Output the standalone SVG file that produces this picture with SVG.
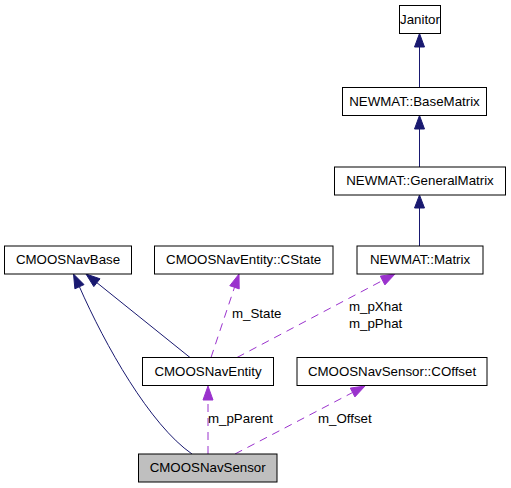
<svg xmlns="http://www.w3.org/2000/svg" width="511" height="488" viewBox="0 0 511 488">
<style>
  .box { fill: #ffffff; stroke: #000000; stroke-width: 1; }
  .cur { fill: #bfbfbf; stroke: #000000; stroke-width: 1; }
  .lbl { font-family: "Liberation Sans", Arial, sans-serif; font-size: 13.3px; fill: #000000; }
  .nm { text-anchor: middle; }
  .inh { fill: none; stroke: #191970; stroke-width: 1; }
  .inhA { fill: #191970; stroke: #191970; stroke-width: 1; }
  .use { fill: none; stroke: #9a32cd; stroke-width: 1; stroke-dasharray: 8,6; }
  .useA { fill: #9a32cd; stroke: #9a32cd; stroke-width: 1; }
</style>
<rect width="511" height="488" fill="#ffffff"/>
<g id="connectors">
  <!-- inheritance -->
  <line class="inh" x1="419.5" y1="87" x2="419.5" y2="47"/>
  <polygon class="inhA" points="419.5,33.5 414.5,47 424.5,47"/>
  <line class="inh" x1="419.5" y1="167" x2="419.5" y2="129"/>
  <polygon class="inhA" points="419.5,115.5 414.5,129 424.5,129"/>
  <line class="inh" x1="419.5" y1="246" x2="419.5" y2="208"/>
  <polygon class="inhA" points="419.5,195 414.5,208 424.5,208"/>
  <path class="inh" d="M192,454 C150,425 105,345 79.4,286.7"/>
  <polygon class="inhA" points="73.5,274 84,284.6 74.9,288.8"/>
  <line class="inh" x1="190" y1="357.5" x2="96.9" y2="282.7"/>
  <polygon class="inhA" points="86,274 100,278.8 93.8,286.6"/>
  <!-- usage -->
  <line class="use" x1="211" y1="357.5" x2="234.5" y2="287.3"/>
  <polygon class="useA" points="239,274 239.2,288.9 229.8,285.7"/>
  <line class="use" x1="237" y1="357.5" x2="382.6" y2="280.5"/>
  <polygon class="useA" points="395,274 384.9,284.9 380.3,276.1"/>
  <line class="use" x1="208" y1="454" x2="208" y2="400"/>
  <polygon class="useA" points="208,386 203,400 213,400"/>
  <line class="use" x1="235" y1="454" x2="352.6" y2="392.5"/>
  <polygon class="useA" points="365,386 354.9,396.9 350.3,388.1"/>
  <text class="lbl" x="232" y="318">m_State</text>
  <text class="lbl" x="349" y="311">m_pXhat</text>
  <text class="lbl" x="349" y="327.5">m_pPhat</text>
  <text class="lbl" x="208" y="423">m_pParent</text>
  <text class="lbl" x="318" y="423">m_Offset</text>
</g>
<g id="Janitor">
  <rect class="box" x="399.5" y="5.5" width="41" height="28"/>
  <text class="lbl nm" x="420" y="23.5">Janitor</text>
</g>
<g id="BaseMatrix">
  <rect class="box" x="342.5" y="87.5" width="144" height="28"/>
  <text class="lbl nm" x="414.5" y="105.5">NEWMAT::BaseMatrix</text>
</g>
<g id="GeneralMatrix">
  <rect class="box" x="334.5" y="167" width="171" height="28"/>
  <text class="lbl nm" x="420" y="185">NEWMAT::GeneralMatrix</text>
</g>
<g id="Matrix">
  <rect class="box" x="357" y="246" width="126" height="28"/>
  <text class="lbl nm" x="420" y="264">NEWMAT::Matrix</text>
</g>
<g id="CState">
  <rect class="box" x="154.5" y="246" width="178.5" height="28"/>
  <text class="lbl nm" x="243.7" y="264">CMOOSNavEntity::CState</text>
</g>
<g id="CMOOSNavBase">
  <rect class="box" x="4.5" y="246" width="127" height="28"/>
  <text class="lbl nm" x="68" y="264">CMOOSNavBase</text>
</g>
<g id="CMOOSNavEntity">
  <rect class="box" x="142.5" y="357.5" width="131" height="28"/>
  <text class="lbl nm" x="208" y="375.5">CMOOSNavEntity</text>
</g>
<g id="COffset">
  <rect class="box" x="297" y="357.5" width="190" height="28"/>
  <text class="lbl nm" x="392" y="375.5">CMOOSNavSensor::COffset</text>
</g>
<g id="CMOOSNavSensor">
  <rect class="cur" x="138.5" y="454" width="138.5" height="28"/>
  <text class="lbl nm" x="207.7" y="472">CMOOSNavSensor</text>
</g>
</svg>
